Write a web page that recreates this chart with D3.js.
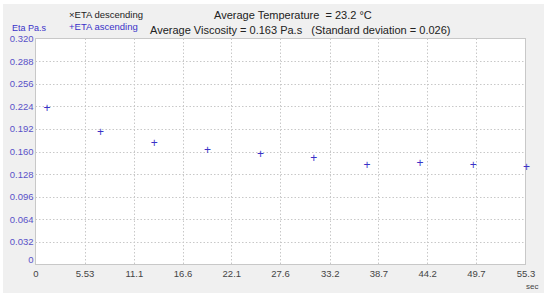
<!DOCTYPE html>
<html>
<head>
<meta charset="utf-8">
<script src="https://cdn.jsdelivr.net/npm/d3@7"></script>
<style>
  body { margin: 0; background: #fff; }
  svg text { font-family: "Liberation Sans", Arial, sans-serif; white-space: pre; }
</style>
</head>
<body>
<div id="chart"></div>
<script>
// Ascending ETA readings (time in sec, viscosity in Pa.s)
const timeSec = [1.3, 7.35, 13.4, 19.4, 25.4, 31.4, 37.4, 43.4, 49.4, 55.4];
const etaAscending = [0.222, 0.188, 0.172, 0.162, 0.157, 0.151, 0.141, 0.144, 0.141, 0.139];
const xTicks = [0, 5.53, 11.1, 16.6, 22.1, 27.6, 33.2, 38.7, 44.2, 49.7, 55.3];
const xTickLabels = ["0", "5.53", "11.1", "16.6", "22.1", "27.6", "33.2", "38.7", "44.2", "49.7", "55.3"];
const yTicks = [0, 0.032, 0.064, 0.096, 0.128, 0.160, 0.192, 0.224, 0.256, 0.288, 0.320];
const yTickLabels = ["0", "0.032", "0.064", "0.096", "0.128", "0.160", "0.192", "0.224", "0.256", "0.288", "0.320"];

const width = 550, height = 299;
const plot = { left: 35.5, right: 525.5, top: 38.5, bottom: 264.5 };

const svg = d3.select("#chart").append("svg")
    .attr("width", width)
    .attr("height", height);

// grey panel behind everything
svg.append("rect")
    .attr("x", 3).attr("y", 4)
    .attr("width", 541).attr("height", 289)
    .attr("fill", "#f0f0f0");

const x = d3.scaleLinear().domain([0, 55.3]).range([plot.left, plot.right]);
const y = d3.scaleLinear().domain([0, 0.32]).range([plot.bottom, plot.top]);

svg.append("rect")
    .attr("x", plot.left).attr("y", plot.top)
    .attr("width", plot.right - plot.left)
    .attr("height", plot.bottom - plot.top)
    .attr("fill", "#fff")
    .attr("stroke", "#c8c8c8");

// dotted grid
svg.append("g").selectAll("line")
    .data(yTicks.slice(1, -1))
    .join("line")
    .attr("x1", plot.left).attr("x2", plot.right)
    .attr("y1", d => Math.round(y(d)) + 0.5).attr("y2", d => Math.round(y(d)) + 0.5)
    .attr("stroke", "#c8c8c8")
    .attr("stroke-dasharray", "1.5,2");

svg.append("g").selectAll("line")
    .data(xTicks.slice(1, -1))
    .join("line")
    .attr("x1", d => Math.round(x(d)) + 0.5).attr("x2", d => Math.round(x(d)) + 0.5)
    .attr("y1", plot.top).attr("y2", plot.bottom)
    .attr("stroke", "#c8c8c8")
    .attr("stroke-dasharray", "1.5,2");

// x axis labels
const xAxis = d3.axisBottom(x)
    .tickValues(xTicks)
    .tickSize(0)
    .tickPadding(6)
    .tickFormat((d, i) => xTickLabels[i]);
const gx = svg.append("g")
    .attr("transform", `translate(0,${plot.bottom})`)
    .call(xAxis);
gx.select(".domain").remove();
gx.selectAll("text").attr("fill", "#444").attr("font-size", 9.5);

// y axis labels
const yAxis = d3.axisLeft(y)
    .tickValues(yTicks)
    .tickSize(0)
    .tickPadding(2)
    .tickFormat((d, i) => yTickLabels[i]);
const gy = svg.append("g")
    .attr("transform", `translate(${plot.left},0)`)
    .call(yAxis);
gy.select(".domain").remove();
gy.selectAll("text").attr("fill", "#5a52c8").attr("font-size", 9.5);
gy.selectAll(".tick").filter(d => d === 0).select("text").attr("dy", "-0.2em");

// points
svg.append("g").selectAll("text")
    .data(timeSec.map((t, i) => ({ t, v: etaAscending[i] })))
    .join("text")
    .attr("x", d => x(d.t))
    .attr("y", d => y(d.v))
    .attr("dy", "0.35em")
    .attr("text-anchor", "middle")
    .attr("fill", "#3a32c8")
    .attr("font-size", 12)
    .text("+");

// labels
svg.append("text")
    .attr("x", 29).attr("y", 31)
    .attr("text-anchor", "middle")
    .attr("fill", "#3a32c8").attr("font-size", 9)
    .text("Eta Pa.s");

svg.append("text")
    .attr("x", 69).attr("y", 18)
    .attr("fill", "#222").attr("font-size", 9.5)
    .text("×ETA descending");
svg.append("text")
    .attr("x", 69).attr("y", 30)
    .attr("fill", "#3a32c8").attr("font-size", 9.5)
    .text("+ETA ascending");

svg.append("text")
    .attr("x", 214).attr("y", 19)
    .attr("fill", "#222").attr("font-size", 11)
    .text("Average Temperature  = 23.2 °C");
svg.append("text")
    .attr("x", 150).attr("y", 34)
    .attr("fill", "#222").attr("font-size", 11)
    .text("Average Viscosity = 0.163 Pa.s   (Standard deviation = 0.026)");

svg.append("text")
    .attr("x", 526).attr("y", 289)
    .attr("fill", "#444").attr("font-size", 8)
    .text("sec");
</script>
</body>
</html>
